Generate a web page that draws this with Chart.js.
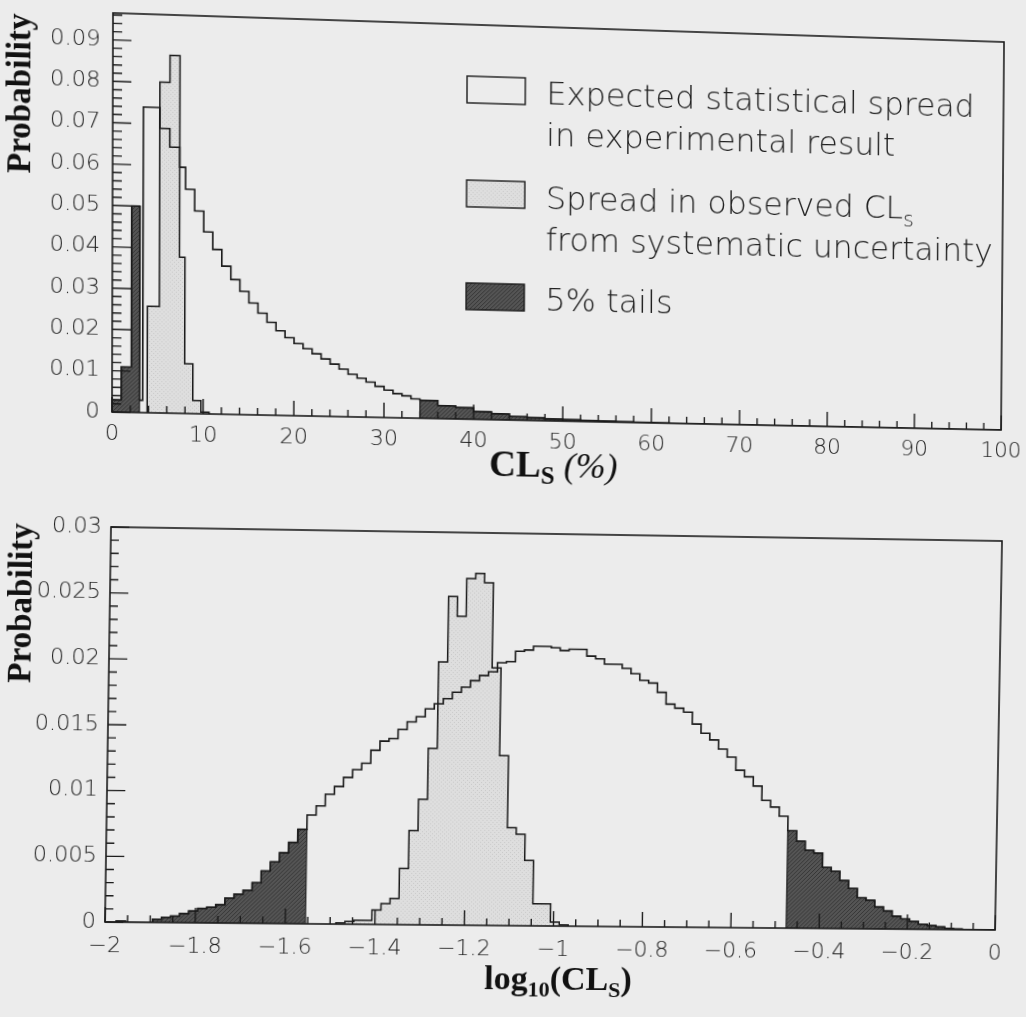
<!DOCTYPE html>
<html>
<head>
<meta charset="utf-8">
<title>CLs spread</title>
<script src="https://cdn.jsdelivr.net/npm/chart.js@4.4.1/dist/chart.umd.min.js"></script>
<style>
  html, body { margin: 0; padding: 0; width: 1026px; height: 1017px; overflow: hidden; background: #ececec; }
  canvas { position: absolute; left: 0; transform-origin: 0 0; }
  #linearPanel { top: 0; }
  #logPanel { top: 490px; }
</style>
</head>
<body>
<canvas id="linearPanel" width="1026" height="490"></canvas>
<canvas id="logPanel" width="1026" height="527"></canvas>
<script>
// ---------- upper panel: CL_s in percent ----------
// expected spread: irregular leading bins, then 1% bins, then 2% bins in the upper tail
const clsHeadEdges  = [0, 1, 2.1, 3.0, 3.35, 5.15, 6.25, 7.35, 8];
const clsHeadValues = [0.003, 0.011, 0.050, 0.003, 0.074, 0.069, 0.0645, 0.0597];
const clsBodyStart = 8, clsBodyWidth = 1;
const clsBodyValues = [0.0544, 0.0492, 0.0442, 0.0400, 0.0360, 0.0328, 0.0300, 0.0272,
  0.0248, 0.0226, 0.0206, 0.0190, 0.0176, 0.0164, 0.0152, 0.0140, 0.0128, 0.0116, 0.0104,
  0.0095, 0.0086, 0.0076, 0.0067, 0.0059, 0.0054, 0.0047];
const clsTailStart = 34, clsTailWidth = 2, clsEnd = 100;
const clsTailValues = [0.0044, 0.0032, 0.0028, 0.0019, 0.0015, 0.0009, 0.0007, 0.0005, 0.0004,
  0.0003, 0.0002, 0.00015, 0.0001, 0.0001, 0.00005, 0, 0, 0, 0, 0, 0, 0, 0, 0, 0, 0, 0, 0, 0, 0, 0, 0, 0];
const clsTailCuts = [3.0, 34];
// spread from systematic uncertainty
const clsSystEdges  = [3.85, 5.15, 6.25, 7.35, 7.95, 8.85, 9.75, 10.65];
const clsSystValues = [0.0258, 0.0802, 0.0867, 0.0379, 0.0121, 0.0032, 0.0004];
const clsXTicks = [0, 10, 20, 30, 40, 50, 60, 70, 80, 90, 100];
const clsYTicks = [0, 0.01, 0.02, 0.03, 0.04, 0.05, 0.06, 0.07, 0.08, 0.09];

// ---------- lower panel: log10(CL_s) ----------
const logBinStart = -1.995, logBinWidth = 0.02;
const logExpected = [
  0, 0.0001, 0, 0, 0,
  0.00025, 0.0004, 0.0005, 0.0007, 0.0009, 0.0011, 0.0012, 0.0014, 0.0019, 0.0022, 0.0025, 0.0031,
  0.0040, 0.0047, 0.0054, 0.0062, 0.0072,
  0.0083, 0.0090, 0.0099, 0.0105, 0.0112, 0.0118, 0.0123, 0.0133, 0.0140, 0.0142, 0.0149, 0.0155, 0.0159,
  0.0165, 0.0169, 0.0173, 0.0178, 0.0182, 0.0187, 0.0191, 0.0194, 0.0201, 0.0202,
  0.0210, 0.0211, 0.0214, 0.0214, 0.0213, 0.0211, 0.0212, 0.0212, 0.0207,
  0.0205, 0.0201, 0.0201, 0.0198, 0.0194, 0.0189, 0.0187, 0.0180, 0.0171, 0.0168,
  0.0165, 0.0156, 0.0149, 0.0144,
  0.0137, 0.0131, 0.0121, 0.0116, 0.0109, 0.0098, 0.0093, 0.0086,
  0.0075, 0.0067, 0.0060, 0.0058, 0.0047, 0.0044, 0.0037, 0.0031, 0.0024, 0.0022, 0.0017, 0.0014,
  0.0010, 0.0008, 0.0006, 0.0004, 0.0003, 0.0002, 0.0001, 0.00005, 0, 0, 0, 0];
const logTailCuts = [-1.555, -0.475];
const logSystStart = -1.487;
const logSystValues = [0.0001, 0.0002, 0.0003, 0.0003, 0.0011, 0.0016, 0.0020, 0.0043, 0.0072,
  0.0096, 0.0135, 0.0201, 0.0251, 0.0236, 0.0265, 0.0269, 0.0262, 0.0197, 0.0130, 0.0075,
  0.0070, 0.0050, 0.0017, 0.0017, 0.0003, 0.0001];
const logXTicks = [-2, -1.8, -1.6, -1.4, -1.2, -1, -0.8, -0.6, -0.4, -0.2, 0];
const logYTicks = [0, 0.005, 0.01, 0.015, 0.02, 0.025, 0.03];

// ---------- helpers ----------
const INK = '#1b1b1b';
const TEXT = '#1e1e1e';
const round6 = v => Number(v.toFixed(6));

function regularEdges(start, width, count, end) {
  const e = [];
  for (let i = 0; i <= count; i++) e.push(round6(start + i * width));
  if (end !== undefined) e[e.length - 1] = Math.min(e[e.length - 1], end);
  return e;
}

// outline of a histogram: vertical at every edge, flat across every bin
function outline(edges, values) {
  const pts = [{ x: edges[0], y: 0 }];
  values.forEach((v, i) => {
    pts.push({ x: edges[i], y: v });
    pts.push({ x: edges[i + 1], y: v });
  });
  pts.push({ x: edges[edges.length - 1], y: 0 });
  return pts;
}

// keep only the bins lying below lo or above hi
function tailBins(edges, values, lo, hi) {
  const low = { e: [], v: [] }, high = { e: [], v: [] };
  values.forEach((v, i) => {
    if (edges[i + 1] <= lo + 1e-9) { if (!low.e.length) low.e.push(edges[i]); low.e.push(edges[i + 1]); low.v.push(v); }
    if (edges[i] >= hi - 1e-9) { if (!high.e.length) high.e.push(edges[i]); high.e.push(edges[i + 1]); high.v.push(v); }
  });
  return [low, high];
}

function pattern(base, ink, kind) {
  const c = document.createElement('canvas');
  c.width = c.height = 4;
  const g = c.getContext('2d');
  g.fillStyle = base; g.fillRect(0, 0, 4, 4);
  g.fillStyle = ink;
  if (kind === 'dots') { g.fillRect(0, 0, 1, 1); g.fillRect(2, 2, 1, 1); }
  else { for (let i = 0; i < 4; i++) g.fillRect(i, 3 - i, 1, 1); }
  return g.createPattern(c, 'repeat');
}
const lightFill = pattern('#dedede', '#c9c9c9', 'dots');
const darkFill = pattern('#555555', '#363636', 'hatch');

const fmt = v => String(Number(v.toFixed(4))).replace('-', '\u2212');

// draws a sequence of text runs (for subscripts) starting at x, baseline y
function runs(ctx, parts, x, y, align) {
  let w = 0;
  parts.forEach(p => { ctx.font = p.font; w += ctx.measureText(p.t).width; });
  let cx = align === 'center' ? x - w / 2 : x;
  parts.forEach(p => {
    ctx.font = p.font;
    ctx.fillText(p.t, cx, y + (p.dy || 0));
    cx += ctx.measureText(p.t).width;
  });
}

// frame and inward ticks
const frameTicks = {
  id: 'frameTicks',
  afterDatasetsDraw(chart, args, o) {
    const { ctx, chartArea: a, scales: { x, y } } = chart;
    ctx.save();
    ctx.strokeStyle = INK;
    ctx.lineWidth = 1.4;
    ctx.beginPath();
    const nx = Math.round((o.x.max - o.x.min) / o.x.minor);
    for (let k = 0; k <= nx; k++) {
      const px = x.getPixelForValue(o.x.min + k * o.x.minor);
      const len = k % o.x.every === 0 ? o.x.majorLen : o.x.minorLen;
      ctx.moveTo(px, a.bottom); ctx.lineTo(px, a.bottom - len);
    }
    const ny = Math.floor((o.y.max - o.y.min) / o.y.minor + 1e-6);
    for (let k = 0; k <= ny; k++) {
      const py = y.getPixelForValue(o.y.min + k * o.y.minor);
      const len = k % o.y.every === 0 ? o.y.majorLen : o.y.minorLen;
      ctx.moveTo(a.left, py); ctx.lineTo(a.left + len, py);
    }
    ctx.stroke();
    ctx.lineWidth = 1.6;
    ctx.strokeRect(a.left, a.top, a.right - a.left, a.bottom - a.top);
    ctx.restore();
  }
};

// axis titles
const titles = {
  id: 'titles',
  afterDraw(chart, args, o) {
    const { ctx } = chart;
    ctx.save();
    ctx.fillStyle = '#111';
    ctx.textBaseline = 'alphabetic';
    ctx.translate(o.yTitle.x, o.yTitle.y);
    ctx.rotate(-Math.PI / 2);
    ctx.font = 'bold 33px "Liberation Serif", "DejaVu Serif", serif';
    ctx.textAlign = 'center';
    ctx.fillText('Probability', 0, 0);
    ctx.restore();
    ctx.save();
    ctx.fillStyle = '#111';
    ctx.textAlign = 'left';
    runs(ctx, o.xTitle.parts, o.xTitle.x, o.xTitle.y, 'center');
    ctx.restore();
  }
};

// legend of the upper panel
const legendBox = {
  id: 'legendBox',
  afterDraw(chart, args, o) {
    if (!o.items) return;
    const { ctx } = chart;
    ctx.save();
    const font = '200 32px "DejaVu Sans", sans-serif';
    const sub = '200 21px "DejaVu Sans", sans-serif';
    o.items.forEach(it => {
      ctx.fillStyle = it.fill;
      ctx.fillRect(o.boxX, it.boxY, o.boxW, o.boxH);
      ctx.strokeStyle = INK; ctx.lineWidth = 1.4;
      ctx.strokeRect(o.boxX, it.boxY, o.boxW, o.boxH);
      ctx.fillStyle = TEXT;
      it.lines.forEach((ln, i) => {
        const parts = ln.map(p => ({ t: p.t, font: p.sub ? sub : font, dy: p.sub ? 8 : 0 }));
        runs(ctx, parts, o.textX, it.baseY + i * o.lineGap, 'left');
      });
    });
    ctx.restore();
  }
};

// --- slight perspective of each panel on the page (projective map of the plot frame) ---
function squareToQuad(q) {
  const [p0, p1, p2, p3] = q;
  const dx1 = p1[0] - p2[0], dx2 = p3[0] - p2[0], dx3 = p0[0] - p1[0] + p2[0] - p3[0];
  const dy1 = p1[1] - p2[1], dy2 = p3[1] - p2[1], dy3 = p0[1] - p1[1] + p2[1] - p3[1];
  const den = dx1 * dy2 - dx2 * dy1;
  const g = (dx3 * dy2 - dx2 * dy3) / den, h = (dx1 * dy3 - dx3 * dy1) / den;
  return [[p1[0] - p0[0] + g * p1[0], p3[0] - p0[0] + h * p3[0], p0[0]],
          [p1[1] - p0[1] + g * p1[1], p3[1] - p0[1] + h * p3[1], p0[1]],
          [g, h, 1]];
}
function mul3(A, B) {
  return A.map((row, i) => B[0].map((_, j) => row[0] * B[0][j] + row[1] * B[1][j] + row[2] * B[2][j]));
}
function tilt(chart, corners, offsetY) {
  const a = chart.chartArea, w = a.right - a.left, h = a.bottom - a.top;
  const S = [[1 / w, 0, -a.left / w], [0, 1 / h, -a.top / h], [0, 0, 1]];
  const M = mul3(squareToQuad(corners.map(p => [p[0], p[1] - offsetY])), S);
  chart.canvas.style.transform = 'matrix3d(' + [M[0][0], M[1][0], 0, M[2][0], M[0][1], M[1][1], 0, M[2][1],
    0, 0, 1, 0, M[0][2], M[1][2], 0, M[2][2]].join(',') + ')';
}

function panel(id, cfg) {
  const tickFont = { family: '"DejaVu Sans", sans-serif', size: cfg.tickSize, weight: '200' };
  const noPad = s => { s.paddingLeft = s.paddingRight = s.paddingTop = s.paddingBottom = 0; };
  return new Chart(document.getElementById(id), {
    type: 'line',
    data: { datasets: cfg.datasets },
    options: {
      responsive: false, animation: false, events: [], devicePixelRatio: 1,
      layout: { padding: cfg.padding },
      elements: { point: { radius: 0 }, line: { tension: 0, borderJoinStyle: 'miter', capBezierPoints: false } },
      plugins: {
        legend: { display: false }, tooltip: { enabled: false },
        frameTicks: cfg.ticks, titles: cfg.titles, legendBox: cfg.legend || {}
      },
      scales: {
        x: {
          type: 'linear', min: cfg.x.min, max: cfg.x.max,
          grid: { display: false, drawTicks: false }, border: { display: false },
          afterBuildTicks: s => { s.ticks = cfg.x.ticks.map(v => ({ value: v })); },
          afterFit: s => { s.height = cfg.x.height; noPad(s); },
          ticks: { padding: cfg.x.pad, font: tickFont, color: TEXT, maxRotation: 0, autoSkip: false, callback: fmt }
        },
        y: {
          type: 'linear', min: cfg.y.min, max: cfg.y.max,
          grid: { display: false, drawTicks: false }, border: { display: false },
          afterBuildTicks: s => { s.ticks = cfg.y.ticks.map(v => ({ value: v })); },
          afterFit: s => { s.width = cfg.y.width; noPad(s); },
          ticks: { padding: cfg.y.pad, font: tickFont, color: TEXT, autoSkip: false, callback: fmt }
        }
      }
    },
    plugins: [frameTicks, titles, legendBox]
  });
}

function datasetsFor(expEdges, expValues, cuts, systEdges, systValues) {
  const tails = tailBins(expEdges, expValues, cuts[0], cuts[1]);
  const ds = [{ label: 'expected', data: outline(expEdges, expValues), borderColor: INK, borderWidth: 1.6, fill: false }];
  tails.forEach((t, i) => ds.push({
    label: '5% tail ' + (i + 1), data: outline(t.e, t.v),
    borderColor: INK, borderWidth: 1.2, backgroundColor: darkFill, fill: 'origin'
  }));
  ds.push({ label: 'systematic', data: outline(systEdges, systValues), borderColor: INK, borderWidth: 1.5,
    backgroundColor: lightFill, fill: 'origin' });
  return ds;
}

// ---------- upper panel ----------
const clsEdges = clsHeadEdges
  .concat(regularEdges(clsBodyStart, clsBodyWidth, clsBodyValues.length).slice(1))
  .concat(regularEdges(clsTailStart, clsTailWidth, clsTailValues.length, clsEnd).slice(1));
const clsValues = clsHeadValues.concat(clsBodyValues, clsTailValues);

const upper = panel('linearPanel', {
  datasets: datasetsFor(clsEdges, clsValues, clsTailCuts, clsSystEdges, clsSystValues),
  padding: { top: 13, right: 24, left: 0, bottom: 0 },
  tickSize: 22,
  x: { min: 0, max: 100, ticks: clsXTicks, height: 78, pad: 9 },
  y: { min: 0, max: 0.0965, ticks: clsYTicks, width: 112, pad: 12 },
  ticks: {
    x: { min: 0, max: 100, minor: 2, every: 5, majorLen: 15, minorLen: 7 },
    y: { min: 0, max: 0.0965, minor: 0.002, every: 5, majorLen: 18, minorLen: 9 }
  },
  titles: {
    yTitle: { x: 32, y: 96 },
    xTitle: { x: 548, y: 469, parts: [
      { t: 'CL', font: 'bold 37px "Liberation Serif", serif' },
      { t: 'S', font: 'bold 25px "Liberation Serif", serif', dy: 7 },
      { t: ' (%)', font: 'italic 36px "Liberation Serif", serif' }
    ] }
  },
  legend: {
    boxX: 460, boxW: 58, boxH: 27, textX: 539, lineGap: 42,
    items: [
      { fill: '#ececec', boxY: 65, baseY: 91,
        lines: [[{ t: 'Expected statistical spread' }], [{ t: 'in experimental result' }]] },
      { fill: lightFill, boxY: 170, baseY: 197,
        lines: [[{ t: 'Spread in observed CL' }, { t: 's', sub: true }], [{ t: 'from systematic uncertainty' }]] },
      { fill: darkFill, boxY: 274, baseY: 300,
        lines: [[{ t: '5% tails' }]] }
    ]
  }
});
tilt(upper, [[113, 13], [1004, 42], [1001, 430], [112, 412]], 0);

// ---------- lower panel ----------
const logEdges = regularEdges(logBinStart, logBinWidth, logExpected.length);
const logSystEdges = regularEdges(logSystStart, logBinWidth, logSystValues.length);

const lower = panel('logPanel', {
  datasets: datasetsFor(logEdges, logExpected, logTailCuts, logSystEdges, logSystValues),
  padding: { top: 38, right: 31, left: 0, bottom: 0 },
  tickSize: 22,
  x: { min: -2, max: 0, ticks: logXTicks, height: 95, pad: 11 },
  y: { min: 0, max: 0.03, ticks: logYTicks, width: 106, pad: 9 },
  ticks: {
    x: { min: -2, max: 0, minor: 0.05, every: 4, majorLen: 15, minorLen: 7 },
    y: { min: 0, max: 0.03, minor: 0.001, every: 5, majorLen: 18, minorLen: 8 }
  },
  titles: {
    yTitle: { x: 29, y: 115 },
    xTitle: { x: 556, y: 496, parts: [
      { t: 'log', font: 'bold 34px "Liberation Serif", serif' },
      { t: '10', font: 'bold 22px "Liberation Serif", serif', dy: 7 },
      { t: '(CL', font: 'bold 34px "Liberation Serif", serif' },
      { t: 'S', font: 'bold 22px "Liberation Serif", serif', dy: 7 },
      { t: ')', font: 'bold 34px "Liberation Serif", serif' }
    ] }
  }
});
tilt(lower, [[111, 527], [1002, 541], [995, 930], [105, 922]], 490);
</script>
</body>
</html>
